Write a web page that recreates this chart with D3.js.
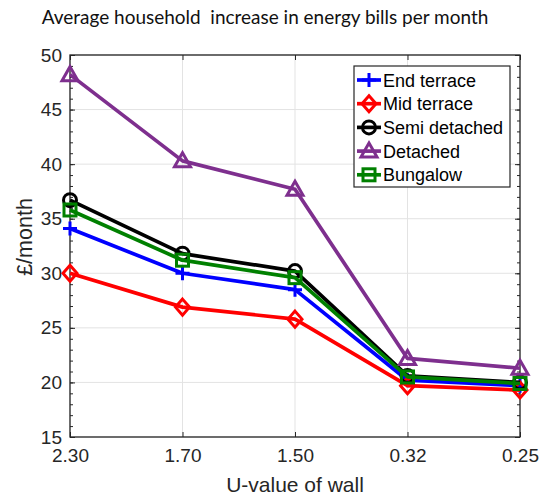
<!DOCTYPE html>
<html>
<head>
<meta charset="utf-8">
<script src="https://cdn.jsdelivr.net/npm/d3@7"></script>
<style>
body { margin: 0; background: #fff; }
text { font-family: "Liberation Sans", Arial, sans-serif; }
</style>
</head>
<body>
<svg id="chart" width="549" height="497"></svg>
<script>
// U-value categories along the x axis
const uValues = ["2.30", "1.70", "1.50", "0.32", "0.25"];
const yTicks = [15, 20, 25, 30, 35, 40, 45, 50];

const endTerrace = [34.1, 30.0, 28.5, 20.2, 19.7];
const midTerrace = [30.0, 26.9, 25.8, 19.7, 19.3];
const semiDetached = [36.7, 31.8, 30.2, 20.6, 20.0];
const detached = [48.2, 40.3, 37.7, 22.2, 21.3];
const bungalow = [35.8, 31.2, 29.6, 20.5, 19.9];

const series = [
    {name: "End terrace", values: endTerrace, color: "#0000ff", marker: "plus"},
    {name: "Mid terrace", values: midTerrace, color: "#ff0000", marker: "diamond"},
    {name: "Semi detached", values: semiDetached, color: "#000000", marker: "circle"},
    {name: "Detached", values: detached, color: "#7e2f8e", marker: "triangle"},
    {name: "Bungalow", values: bungalow, color: "#008000", marker: "square"}
];

let svg = d3.select("#chart");
let margin = {top: 55, right: 29, bottom: 60, left: 70};
let width = 549 - margin.left - margin.right;
let height = 497 - margin.top - margin.bottom;

let x = d3.scalePoint().domain(uValues).range([0, width]);
let y = d3.scaleLinear().domain([15, 50]).range([height, 0]);

// title (Calibri-like look, scaled to the reference width)
let title = svg.append("text")
    .attr("x", 265)
    .attr("y", 24)
    .style("text-anchor", "middle")
    .style("font-family", "Lato, 'Open Sans', sans-serif")
    .style("font-size", "18px")
    .style("fill", "#111")
    .attr("xml:space", "preserve")
    .text("Average household  increase in energy bills per month");
let tw = title.node().getComputedTextLength();
title.style("font-size", (18 * 447 / tw) + "px");

let g = svg.append("g")
    .attr("transform", "translate(" + margin.left + "," + margin.top + ")");

// grid
g.append("g").selectAll("line")
    .data(yTicks)
    .enter().append("line")
    .attr("x1", 0).attr("x2", width)
    .attr("y1", y).attr("y2", y)
    .style("stroke", "#e3e3e3").style("stroke-width", 1);
g.append("g").selectAll("line")
    .data(uValues)
    .enter().append("line")
    .attr("x1", x).attr("x2", x)
    .attr("y1", 0).attr("y2", height)
    .style("stroke", "#e3e3e3").style("stroke-width", 1);

// axes
let minor = d3.range(15, 51, 1);
let styleAxis = sel => {
    sel.select(".domain").remove();
    sel.selectAll("line").style("stroke", "#262626");
    sel.selectAll("text").style("font-size", "19px").style("fill", "#262626");
};

g.append("g")
    .attr("class", "axis axis--y")
    .call(d3.axisLeft(y).tickValues(yTicks).tickSize(-5).tickPadding(8))
    .call(styleAxis);
g.append("g")
    .call(d3.axisLeft(y).tickValues(minor).tickSize(-3).tickFormat(""))
    .call(styleAxis);
g.append("g")
    .attr("transform", "translate(" + width + ",0)")
    .call(d3.axisRight(y).tickValues(yTicks).tickSize(-5).tickFormat(""))
    .call(styleAxis);
g.append("g")
    .attr("transform", "translate(" + width + ",0)")
    .call(d3.axisRight(y).tickValues(minor).tickSize(-3).tickFormat(""))
    .call(styleAxis);
g.append("g")
    .attr("class", "axis axis--x")
    .attr("transform", "translate(0," + height + ")")
    .call(d3.axisBottom(x).tickSize(-5).tickPadding(12))
    .call(styleAxis);
g.append("g")
    .call(d3.axisTop(x).tickSize(-5).tickFormat(""))
    .call(styleAxis);

g.append("rect")
    .attr("width", width).attr("height", height)
    .style("fill", "none").style("stroke", "#262626").style("stroke-width", 1.3);

// markers
function drawMarker(sel, type, color) {
    let s = 7;
    let p;
    if (type === "plus") {
        p = sel.append("path").attr("d", `M${-s},0H${s}M0,${-s}V${s}`);
    } else if (type === "diamond") {
        p = sel.append("path").attr("d", `M0,${-s - 1}L${s},0L0,${s + 1}L${-s},0Z`);
    } else if (type === "circle") {
        p = sel.append("circle").attr("r", s - 0.5);
    } else if (type === "triangle") {
        p = sel.append("path").attr("d", `M0,${-s - 1}L${s + 1},${s - 1}L${-s - 1},${s - 1}Z`);
    } else {
        p = sel.append("rect").attr("x", -s + 1).attr("y", -s + 1).attr("width", 2 * s - 2).attr("height", 2 * s - 2);
    }
    p.style("fill", "none").style("stroke", color).style("stroke-width", 3);
}

let line = d3.line()
    .x((d, i) => x(uValues[i]))
    .y(d => y(d));

series.forEach(s => {
    g.append("path")
        .datum(s.values)
        .attr("d", line)
        .style("fill", "none")
        .style("stroke", s.color)
        .style("stroke-width", 3.7)
        .style("stroke-linejoin", "round");
    s.values.forEach((v, i) => {
        let m = g.append("g").attr("transform", "translate(" + x(uValues[i]) + "," + y(v) + ")");
        drawMarker(m, s.marker, s.color);
    });
});

// legend
let legend = svg.append("g").attr("transform", "translate(354,66)");
legend.append("rect")
    .attr("width", 156).attr("height", 121)
    .style("fill", "#fff").style("stroke", "#262626").style("stroke-width", 1.2);
series.forEach((s, i) => {
    let row = legend.append("g").attr("transform", "translate(0," + (14 + i * 23.7) + ")");
    row.append("line")
        .attr("x1", 3).attr("x2", 27)
        .style("stroke", s.color).style("stroke-width", 3.7);
    drawMarker(row.append("g").attr("transform", "translate(15,0)"), s.marker, s.color);
    row.append("text")
        .attr("x", 29).attr("y", 6.5)
        .style("font-size", "18px")
        .style("fill", "#000")
        .text(s.name);
});

// axis labels
svg.append("text")
    .attr("x", margin.left + width / 2)
    .attr("y", 492)
    .style("text-anchor", "middle")
    .style("font-size", "21px")
    .style("fill", "#262626")
    .text("U-value of wall");

svg.append("text")
    .attr("transform", "rotate(-90)")
    .attr("x", -237)
    .attr("y", 32)
    .style("text-anchor", "middle")
    .style("font-size", "21.5px")
    .style("fill", "#262626")
    .text("£/month");
</script>
</body>
</html>
